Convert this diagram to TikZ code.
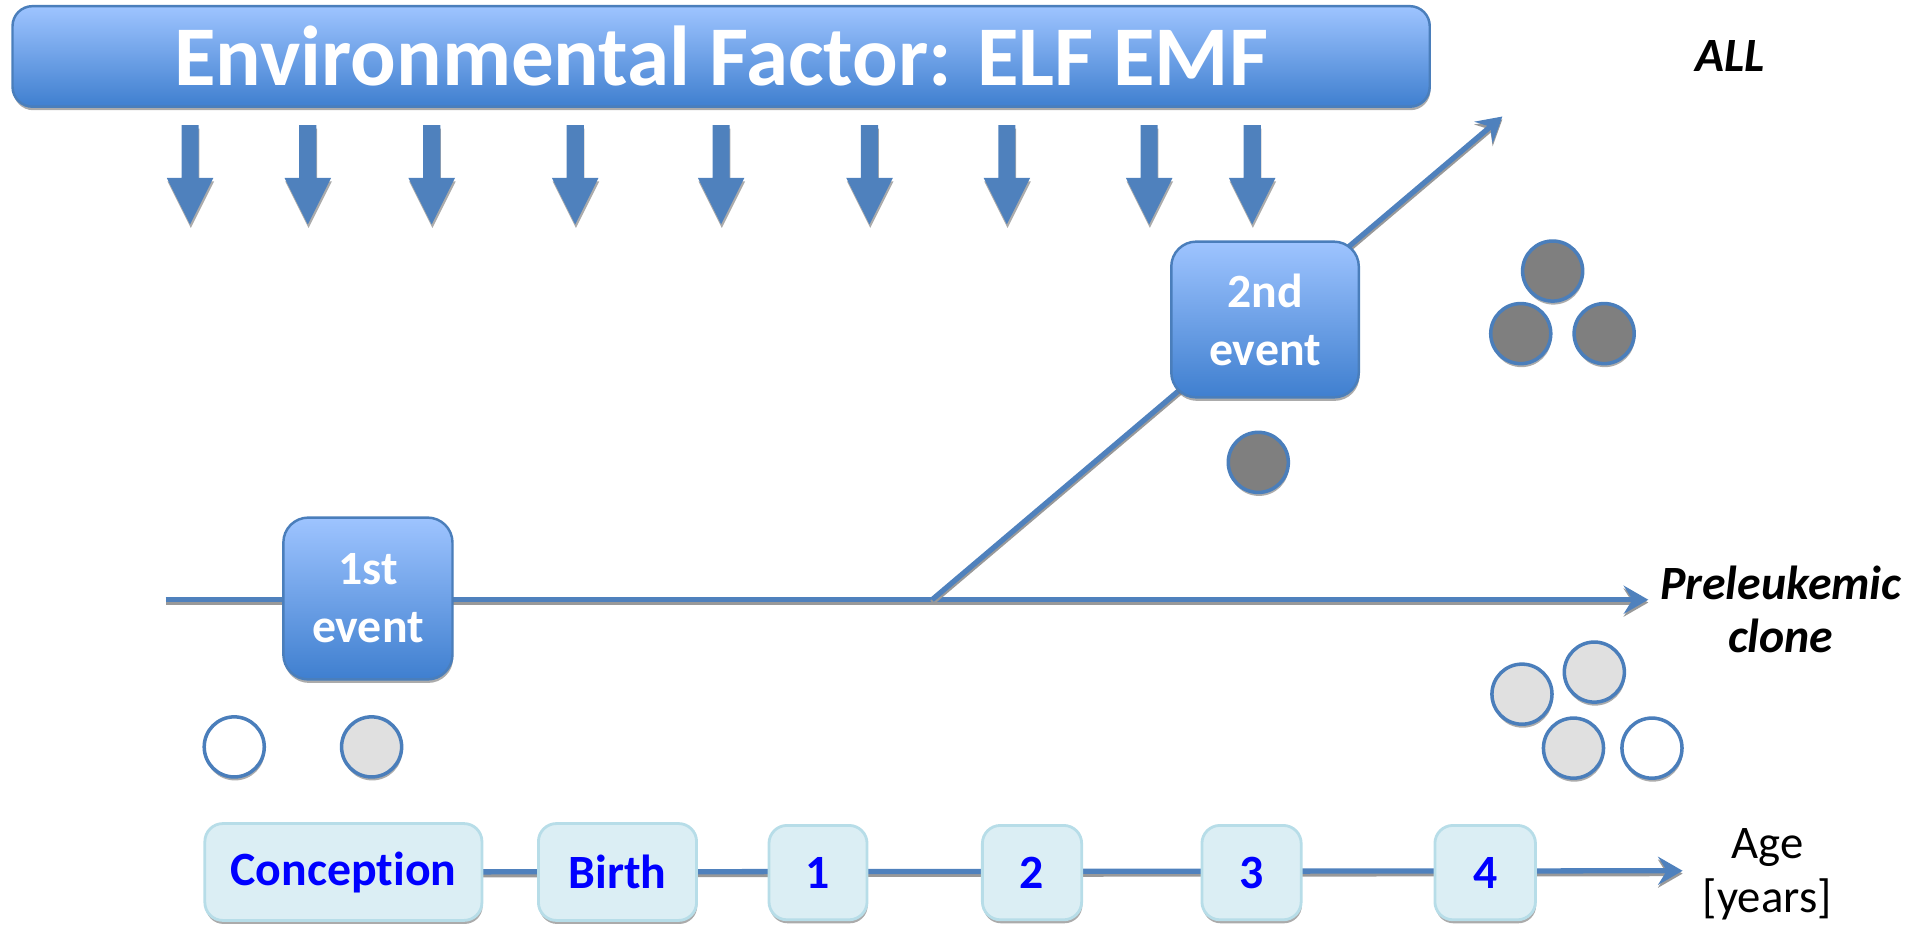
\documentclass[tikz,border=0pt]{standalone}
\usepackage{fontspec}
\setmainfont{Carlito}[Ligatures=CommonOff]
\usetikzlibrary{arrows.meta,shadows,backgrounds}
\definecolor{gradtop}{HTML}{9EC4FF}
\definecolor{gradbot}{HTML}{3F7FCF}
\definecolor{boxline}{HTML}{4A7EBB}
\definecolor{flowblue}{HTML}{4F81BD}
\definecolor{tlfill}{HTML}{DBEEF4}
\definecolor{tlline}{HTML}{B7DDE8}
\definecolor{tltext}{HTML}{0000FF}
\definecolor{darkcell}{HTML}{7F7F7F}
\definecolor{lightcell}{HTML}{E0E0E0}
\tikzset{
  softshadow/.style={drop shadow={shadow xshift=0.2pt, shadow yshift=-1pt, fill=black!55, opacity=0.6}},
  gradbox/.style={draw=boxline, line width=0.7pt, top color=gradtop, bottom color=gradbot,
    rounded corners=0.25cm, text=white, font=\bfseries\fontsize{13.6}{16.5}\selectfont,
    align=center, inner sep=0pt, softshadow},
  titlebox/.style={gradbox, rounded corners=0.2cm, font=\bfseries\fontsize{24.2}{28}\selectfont},
  bigital/.style={font=\bfseries\itshape\fontsize{13.6}{15}\selectfont, align=center, inner sep=0pt},
  agelabel/.style={font=\fontsize{13.3}{15.4}\selectfont, align=center, inner sep=0pt},
  tlbox/.style={draw=tlline, line width=0.8pt, fill=tlfill, rounded corners=0.18cm,
    text=tltext, font=\bfseries\fontsize{13.6}{16}\selectfont, inner sep=0pt, softshadow},
  cell/.style={circle, draw=boxline, line width=1pt, minimum size=0.601cm, inner sep=0pt, softshadow},
  flowline/.style={draw=flowblue, line width=1.5pt,
    preaction={draw=black!40, line width=1.5pt, transform canvas={yshift=-0.8pt}}},
  tip/.style={-{Stealth[length=7pt,width=8pt,inset=2.5pt]}},
  envarrow/.style={fill=flowblue, softshadow}
}
\begin{document}
\begin{tikzpicture}[x=0.012264cm, y=-0.012264cm]
\useasboundingbox (0,0) rectangle (1568,755);

% title banner
\node[titlebox, minimum width=14.177cm, minimum height=1.006cm] (title) at (588,46) {Environmental Factor: ELF EMF};
\node[bigital] (all) at (1411,46) {ALL};

% environmental exposure arrows
\foreach \x in {155,251,352,469,588,709,821,937,1021}
  \path[envarrow] (\x-7,102) -- (\x+7,102) -- (\x+7,145) -- (\x+19,145) -- (\x,183)
    -- (\x-19,145) -- (\x-7,145) -- cycle;

% clone lines
\coordinate (hstart) at (135,489);
\coordinate (branch) at (760,489);
\coordinate (hend) at (1344,489);
\coordinate (aend) at (1225,95);
\draw[flowline, tip] (hstart) -- (hend);
\draw[flowline, tip] (branch) -- (aend);

% events
\node[gradbox, minimum width=1.692cm, minimum height=1.619cm] (ev1) at (300,488) {1st\\event};
\node[gradbox, minimum width=1.876cm, minimum height=1.558cm] (ev2) at (1031.5,260.5) {2nd\\event};

\node[bigital] (prel) at (1452,497) {Preleukemic\\clone};

% cells
\node[cell, fill=darkcell] (d1) at (1266,221) {};
\node[cell, fill=darkcell] (d2) at (1240,272) {};
\node[cell, fill=darkcell] (d3) at (1308,272) {};
\node[cell, fill=darkcell] (d4) at (1026,377) {};
\node[cell, fill=lightcell] (p1) at (1241,566) {};
\node[cell, fill=lightcell] (p2) at (1300,548) {};
\node[cell, fill=lightcell] (p3) at (1283,610) {};
\node[cell, fill=white] (p4) at (1347,610) {};
\node[cell, fill=white] (n1) at (191,609) {};
\node[cell, fill=lightcell] (n2) at (303,609) {};

% timeline
\node[tlbox, minimum width=2.772cm, minimum height=0.969cm] (conc) at (280,711) {Conception};
\node[tlbox, minimum width=1.582cm, minimum height=0.969cm] (birth) at (503.5,711) {Birth};
\node[tlbox, minimum width=0.981cm, minimum height=0.944cm] (yr1) at (667,711.5) {1};
\node[tlbox, minimum width=0.993cm, minimum height=0.944cm] (yr2) at (841.5,711.5) {2};
\node[tlbox, minimum width=0.993cm, minimum height=0.944cm] (yr3) at (1020.5,711.5) {3};
\node[tlbox, minimum width=1.006cm, minimum height=0.944cm] (yr4) at (1211,711.5) {4};
\coordinate (ageend) at (1372,710);
\begin{scope}[on background layer]
  \draw[flowline, tip] (conc.center) -- (ageend);
\end{scope}
\node[agelabel] (age) at (1441,713) {Age\\{[years]}};
\end{tikzpicture}
\end{document}
